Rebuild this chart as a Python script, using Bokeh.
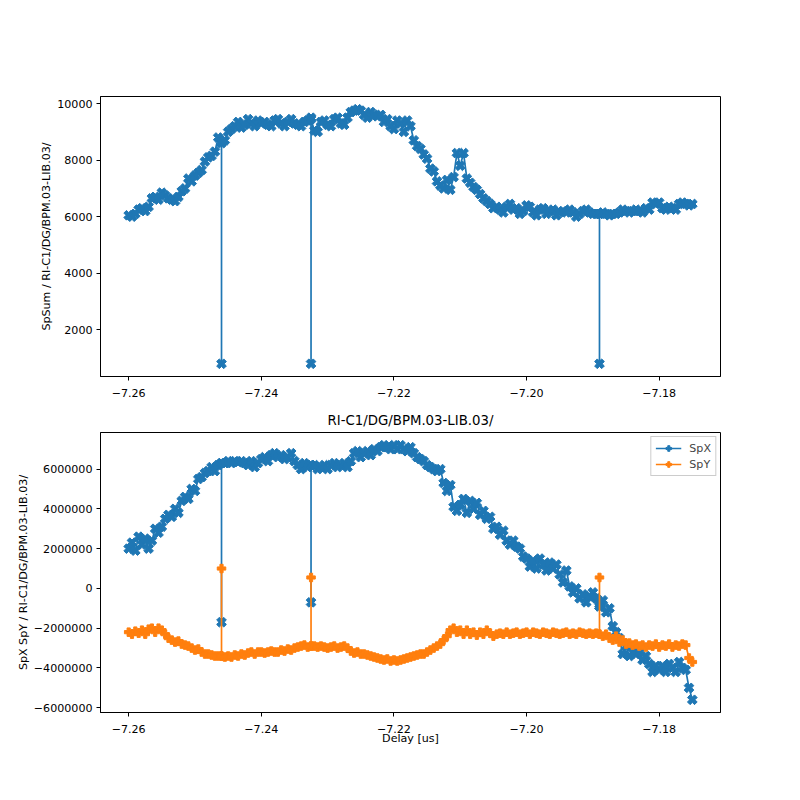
import numpy as np
from bokeh.plotting import figure
from bokeh.layouts import column
from bokeh.models import Range1d, FixedTicker, CustomJSTickFormatter
from bokeh.embed import file_html
from bokeh.resources import INLINE

TITLE = "RI-C1/DG/BPM.03-LIB.03/"

# scan grid (delay in us)
delay_start = -7.26
delay_step = 0.0005

# SpSum readings on the scan grid
spsum = [
    6050, 6000, 6100, 6250, 6300, 6200, 6350, 6650, 6700, 6600,
    6850, 6750, 6650, 6600, 6550, 6700, 6900, 7000, 7350, 7250,
    7450, 7550, 7650, 7950, 8100, 8150, 8300, 8800, 8600, 8700,
    9000, 9100, 9200, 9350, 9150, 9250, 9450, 9300, 9200, 9400,
    9300, 9350, 9250, 9200, 9400, 9450, 9300, 9200, 9350, 9450,
    9300, 9250, 9200, 9350, 9400, 9500, 9050, 9000, 9350, 9400,
    9250, 9200, 9450, 9500, 9300, 9250, 9500, 9700, 9750, 9800,
    9750, 9600, 9500, 9700, 9600, 9550, 9600, 9350, 9450, 9200,
    9100, 9400, 9300, 9000, 9400, 9200, 8700, 8500, 8400, 8200,
    8050, 7700, 7600, 7250, 7100, 7000, 7300, 6950, 7400, 8250,
    7800, 8250, 7350, 7200, 7050, 6950, 6800, 6650, 6550, 6450,
    6300, 6350, 6250, 6150, 6350, 6450, 6250, 6300, 6100, 6200,
    6400, 6350, 6150, 6050, 6250, 6300, 6100, 6200, 6250, 6050,
    6150, 6200, 6150, 6250, 6150, 6000, 6100, 6200, 6250, 6150,
    6100, 6100, 6100, 6150, 6100, 6050, 6100, 6100, 6150, 6250,
    6200, 6150, 6200, 6250, 6200, 6150, 6300, 6250, 6500, 6450,
    6500, 6300, 6250, 6350, 6300, 6250, 6450, 6500, 6450, 6400,
    6450,
]

# SpX readings on the scan grid (millions)
spx_millions = [
    2.0, 2.3, 1.9, 2.6, 2.2, 2.5, 2.0, 2.4, 3.0, 2.8,
    3.1, 3.5, 3.7, 3.6, 4.0, 3.8, 4.4, 4.6, 4.5, 5.0,
    4.9, 5.5, 5.6, 5.8, 5.9, 6.1, 5.9, 6.2, 6.3, 6.3,
    6.4, 6.3, 6.4, 6.35, 6.4, 6.3, 6.2, 6.4, 6.1, 6.3,
    6.5, 6.6, 6.4, 6.7, 6.8, 6.6, 6.7, 6.5, 6.6, 6.8,
    6.4, 6.2, 6.0, 6.3, 6.1, 6.2, 6.2, 6.0, 6.1, 6.2,
    6.0, 6.2, 6.3, 6.1, 6.2, 6.3, 6.1, 6.4, 6.8, 6.9,
    6.6, 6.8, 6.9, 6.7, 7.0, 6.9, 7.1, 7.2, 7.1, 7.0,
    7.2, 7.0, 7.2, 7.0, 6.9, 7.1, 6.8, 6.6, 6.5, 6.4,
    6.2, 6.1, 6.0, 5.9, 6.0, 5.3, 4.9, 5.2, 4.1, 3.9,
    4.2, 4.5, 3.8, 4.4, 4.0, 4.3, 3.7, 3.9, 3.5, 3.6,
    3.0, 3.1, 2.7, 2.9, 2.4, 2.2, 2.4, 2.1, 2.0, 1.6,
    1.5, 1.1, 1.4, 1.0, 1.5, 1.2, 0.9, 1.3, 1.0, 1.2,
    0.7, 0.3, 0.9, 0.1, -0.2, 0.0, -0.5, -0.3, -0.7, -0.4,
    -0.2, -0.5, -0.9, -0.6, -1.2, -1.0, -1.9, -2.2, -2.5, -3.3,
    -2.9, -3.4, -3.0, -3.3, -3.2, -3.6, -3.4, -3.8, -4.2, -3.9,
    -4.1, -3.9, -4.2, -3.8, -4.0, -4.2, -3.7, -4.0, -4.1, -5.0,
    -5.6,
]

# SpY readings on the scan grid (millions)
spy_millions = [
    -2.2, -2.3, -2.15, -2.25, -2.1, -2.3, -2.05, -2.0, -2.2, -2.0,
    -2.1, -2.3, -2.5, -2.6, -2.7, -2.65, -2.8, -2.85, -2.9, -3.0,
    -3.1, -3.05, -3.2, -3.3, -3.3, -3.35, -3.4, -3.4, -3.4, -3.45,
    -3.4, -3.45, -3.35, -3.4, -3.3, -3.35, -3.25, -3.2, -3.3, -3.2,
    -3.2, -3.25, -3.2, -3.15, -3.2, -3.2, -3.1, -3.15, -3.05, -3.1,
    -3.0, -2.95, -2.9, -2.85, -2.95, -2.9, -2.9, -2.95, -2.9, -2.95,
    -3.0, -2.95, -2.9, -3.0, -2.95, -2.9, -3.0, -3.15, -3.25, -3.2,
    -3.3, -3.3, -3.35, -3.4, -3.45, -3.5, -3.55, -3.6, -3.55, -3.65,
    -3.6, -3.65, -3.6, -3.55, -3.5, -3.45, -3.4, -3.35, -3.3, -3.3,
    -3.2, -3.1, -3.0, -2.9, -2.8, -2.6, -2.4, -2.1, -2.0, -2.2,
    -2.1, -2.3, -2.1, -2.3, -2.2, -2.35, -2.2, -2.3, -2.1, -2.25,
    -2.4, -2.3, -2.25, -2.3, -2.2, -2.3, -2.25, -2.2, -2.3, -2.25,
    -2.2, -2.3, -2.2, -2.25, -2.3, -2.2, -2.25, -2.3, -2.2, -2.25,
    -2.3, -2.25, -2.2, -2.3, -2.25, -2.3, -2.2, -2.25, -2.3, -2.25,
    -2.3, -2.25, -2.3, -2.4, -2.3, -2.5, -2.6, -2.4, -2.7, -2.6,
    -2.8, -2.75, -2.85, -2.8, -2.9, -2.85, -2.95, -2.85, -2.9, -2.8,
    -2.95, -2.85, -2.9, -2.8, -2.95, -2.85, -2.9, -2.8, -2.85, -3.5,
    -3.7,
]

# glitch readings, each followed by a repeat reading, at the delay of these grid points
glitch_index = [28, 55, 142]
spsum_glitch = [800, 800, 800]
spsum_repeat = [8650, 9450, 6100]
spx_glitch_millions = [-1.7, -0.7, -0.8]
spx_repeat_millions = [6.3, 6.2, -0.9]
spy_glitch_millions = [1.0, 0.55, 0.55]
spy_repeat_millions = [-3.4, -2.9, -2.3]

x_ticks = [-7.26, -7.24, -7.22, -7.20, -7.18]
sum_ticks = [2000, 4000, 6000, 8000, 10000]
xy_ticks = [-6000000, -4000000, -2000000, 0, 2000000, 4000000, 6000000]

n = min(len(spsum), len(spx_millions), len(spy_millions))
grid = delay_start + delay_step * np.arange(n)
pos = []
for k in glitch_index:
    pos += [k + 1, k + 1]

def with_glitches(base, glitch, repeat):
    vals = []
    for g, r in zip(glitch, repeat):
        vals += [g, r]
    return np.insert(np.array(base[:n], dtype=float), pos, vals)

delay = with_glitches(list(grid), list(grid[glitch_index]), list(grid[glitch_index]))
s_sum = with_glitches(spsum, spsum_glitch, spsum_repeat)
s_x = with_glitches(spx_millions, spx_glitch_millions, spx_repeat_millions) * 1e6
s_y = with_glitches(spy_millions, spy_glitch_millions, spy_repeat_millions) * 1e6

def padded(lo, hi, f=0.05):
    d = hi - lo
    return lo - f * d, hi + f * d

xr = Range1d(*padded(delay.min(), delay.max()))
yr1 = Range1d(*padded(s_sum.min(), s_sum.max()))
yr2 = Range1d(*padded(min(s_x.min(), s_y.min()), max(s_x.max(), s_y.max())))

BLUE = "#1f77b4"
ORANGE = "#ff7f0e"
FONT = "DejaVu Sans"
TICK_FS = "11.1px"

fmt2 = CustomJSTickFormatter(code="return (tick < 0 ? '\\u2212' : '') + Math.abs(tick).toFixed(2);")
fmt0 = CustomJSTickFormatter(code="return (tick < 0 ? '\\u2212' : '') + Math.abs(tick).toFixed(0);")

def style(p):
    p.xgrid.visible = False
    p.ygrid.visible = False
    p.outline_line_color = "black"
    p.outline_line_alpha = 1
    p.outline_line_width = 1
    p.background_fill_color = "white"
    p.border_fill_color = "white"
    for ax in p.axis:
        ax.major_tick_out = 4
        ax.major_tick_in = 0
        ax.minor_tick_out = 0
        ax.minor_tick_in = 0
        ax.axis_line_color = "black"
        ax.major_tick_line_color = "black"
        ax.major_label_text_font = FONT
        ax.major_label_text_font_size = TICK_FS
        ax.major_label_text_color = "black"
        ax.major_label_standoff = 4
        ax.axis_label_text_font = FONT
        ax.axis_label_text_font_size = TICK_FS
        ax.axis_label_text_font_style = "normal"
        ax.axis_label_text_color = "black"
        ax.axis_label_standoff = 1
    p.xaxis.ticker = FixedTicker(ticks=x_ticks)
    p.xaxis.formatter = fmt2
    p.xaxis.major_label_standoff = 8
    p.xaxis.axis_label_standoff = -4

p1 = figure(width=784, height=404, x_range=xr, y_range=yr1,
            output_backend="svg", toolbar_location=None,
            min_border_left=100, min_border_right=64,
            min_border_top=96, min_border_bottom=28)
style(p1)
p1.yaxis.ticker = FixedTicker(ticks=sum_ticks)
p1.yaxis.formatter = fmt0
p1.yaxis.axis_label = "SpSum / " + TITLE
p1.line(delay, s_sum, color=BLUE, line_width=1.7)
p1.scatter(delay, s_sum, marker="plus", angle=np.pi / 4, size=10,
           color=BLUE)

p2 = figure(width=784, height=380, x_range=xr, y_range=yr2,
            output_backend="svg", toolbar_location=None,
            min_border_left=100, min_border_right=64,
            min_border_top=28, min_border_bottom=72)
style(p2)
p2.title.text = TITLE
p2.title.align = "center"
p2.title.text_font = FONT
p2.title.text_font_size = "13.3px"
p2.title.text_font_style = "normal"
p2.title.text_color = "black"
p2.yaxis.ticker = FixedTicker(ticks=xy_ticks)
p2.yaxis.formatter = fmt0
p2.yaxis.axis_label = "SpX SpY / " + TITLE
p2.xaxis.axis_label = "Delay [us]"

p2.line(delay, s_x, color=BLUE, line_width=1.7, legend_label="SpX")
p2.scatter(delay, s_x, marker="plus", angle=np.pi / 4, size=10,
           color=BLUE, legend_label="SpX")
p2.line(delay, s_y, color=ORANGE, line_width=1.7, legend_label="SpY")
p2.scatter(delay, s_y, marker="plus", size=8.5, color=ORANGE,
           legend_label="SpY")

lg = p2.legend[0]
lg.location = "top_right"
lg.label_text_font = FONT
lg.label_text_font_size = TICK_FS
lg.border_line_color = "#cccccc"
lg.border_line_alpha = 1
lg.background_fill_alpha = 0.8
lg.margin = 4
lg.padding = 4
lg.spacing = 2
lg.glyph_width = 26
lg.glyph_height = 14
lg.label_height = 14
lg.label_standoff = 8

layout = column(p1, p2, spacing=0)
open("out.html", "w", encoding="utf-8").write(file_html(layout, INLINE))
